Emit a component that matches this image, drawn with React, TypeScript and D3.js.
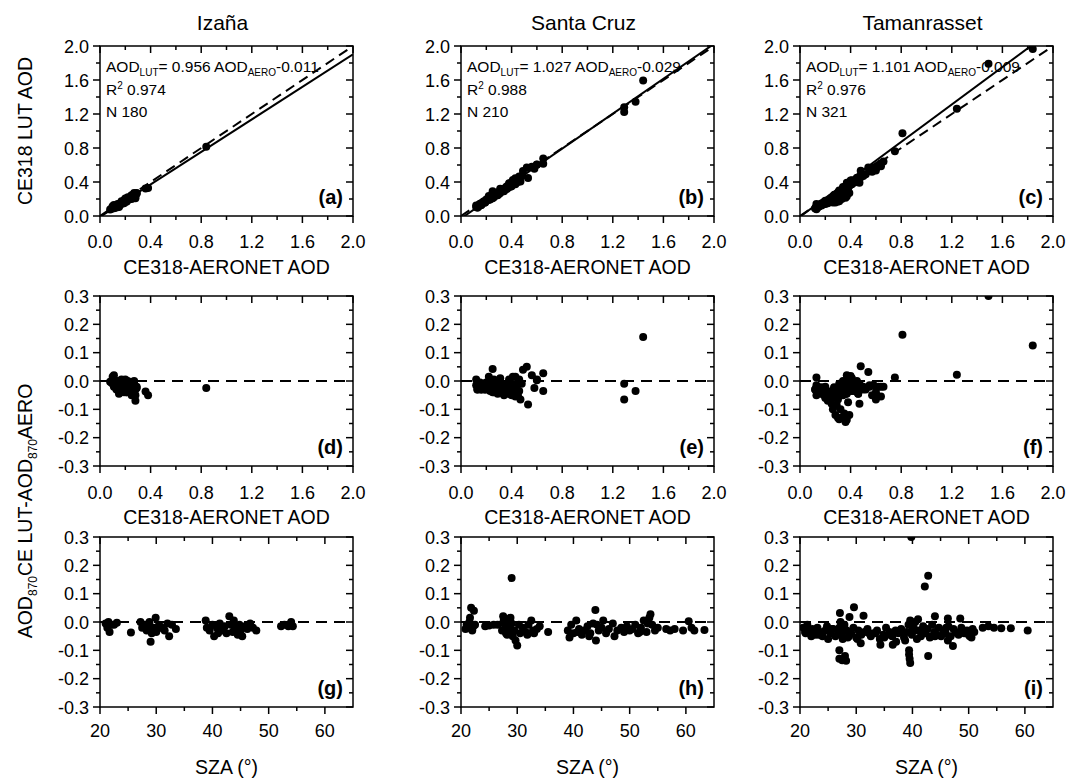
import React from 'react';
import * as d3 from 'd3';

// ---------- Data ----------
const stations = ['Izaña', 'Santa Cruz', 'Tamanrasset'];
const panelLetters = [['(a)', '(b)', '(c)'], ['(d)', '(e)', '(f)'], ['(g)', '(h)', '(i)']];

const fitSlope = [0.956, 1.027, 1.101];
const fitIntercept = [-0.011, -0.029, -0.009];
const fitR2 = ['0.974', '0.988', '0.976'];
const fitN = ['180', '210', '321'];

// Izaña: CE318-AERONET AOD, LUT-AERO difference, SZA
const izanaAero = [0.09,0.12,0.15,0.10,0.13,0.08,0.11,0.36,0.14,0.16,0.12,0.17,0.18,0.28,0.21,0.20,0.10,0.26,0.22,0.24,0.23,0.19,0.38,0.25,0.29,0.27,0.27,0.17,0.11,0.14,0.15,0.25,0.18,0.21,0.19,0.24,0.21,0.11,0.13,0.23,0.26,0.15,0.28,0.28,0.16,0.84,0.25,0.29,0.13,0.20,0.19,0.27,0.12,0.14,0.16,0.22,0.18];
const izanaDiff = [-0.005,-0.020,-0.035,-0.010,-0.010,-0.003,0.000,-0.037,0.000,-0.020,-0.010,-0.030,-0.015,-0.070,-0.040,-0.020,0.015,-0.025,-0.010,-0.020,-0.030,-0.005,-0.050,-0.010,-0.025,0.000,-0.035,0.005,-0.020,-0.030,-0.010,-0.050,-0.020,-0.005,-0.030,-0.015,-0.040,0.020,-0.010,-0.035,-0.020,-0.045,-0.030,-0.050,-0.015,-0.025,-0.005,-0.020,-0.030,0.005,-0.040,-0.010,-0.015,-0.010,-0.015,0.000,-0.015];
const izanaSza = [21.0,21.3,21.7,22.0,22.5,23.0,21.5,25.5,27.2,27.5,28.0,28.3,28.6,29.0,29.2,29.5,29.9,30.2,30.5,31.0,31.5,32.0,32.3,32.8,33.5,28.8,30.0,38.8,39.0,39.5,40.0,40.3,40.8,41.3,41.7,42.2,42.5,43.0,43.3,43.6,44.0,44.5,45.0,45.3,45.8,46.2,46.7,47.2,47.8,43.8,41.0,44.8,52.2,52.8,53.5,54.0,54.3];

// Santa Cruz
const santaAero = [0.52,0.49,0.14,0.20,0.27,0.33,0.18,0.40,0.22,0.12,0.30,0.36,0.16,0.44,0.56,0.31,0.41,1.44,0.53,0.47,0.25,0.13,0.23,0.35,0.45,0.19,0.38,0.29,0.15,0.42,0.26,0.34,0.17,0.28,0.21,0.46,0.37,0.14,0.32,1.38,0.24,0.39,0.16,0.43,0.27,0.31,0.12,0.22,0.36,0.19,0.29,0.41,0.24,0.25,1.29,0.33,0.15,0.38,0.26,0.44,0.20,0.34,0.13,0.23,0.40,0.48,0.28,0.65,0.17,0.37,0.58,1.29,0.30,0.21,0.60,0.35,0.43,0.65,0.18,0.32,0.25,0.46,0.39,0.14,0.27,0.42,0.22,0.60,0.31,0.16,0.36];
const santaDiff = [0.05,0.04,-0.01,-0.02,0.0,-0.03,-0.01,-0.025,0.015,-0.015,-0.015,-0.012,-0.01,-0.01,0.02,0.01,0.015,0.155,-0.083,-0.065,-0.04,-0.03,-0.01,-0.02,-0.05,-0.03,-0.01,-0.045,-0.005,-0.04,0.005,-0.035,-0.02,-0.035,-0.01,0.005,-0.04,-0.025,-0.015,-0.035,-0.03,-0.045,-0.03,-0.055,-0.01,-0.04,0.005,-0.025,-0.045,-0.03,-0.015,-0.04,-0.005,0.042,-0.065,-0.03,-0.02,0.005,-0.04,-0.025,-0.005,-0.05,-0.03,-0.035,-0.05,-0.01,-0.02,-0.035,-0.015,-0.03,-0.025,-0.01,-0.04,-0.02,0.005,-0.035,0.015,0.027,-0.01,-0.03,-0.02,-0.035,-0.005,-0.025,-0.03,-0.025,-0.03,0.003,-0.02,-0.03,-0.028];
const santaSza = [21.8,22.3,21.0,21.2,21.5,22.0,22.5,20.8,21.6,22.2,24.3,25.0,25.8,26.5,27.5,28.3,28.8,29.0,30.0,29.7,28.0,27.3,27.8,28.5,29.2,29.5,30.3,28.2,29.0,30.5,27.6,28.7,31.0,31.5,32.0,32.5,33.0,33.5,34.0,35.5,32.8,31.8,39.0,39.3,39.6,40.0,40.5,41.0,41.5,42.0,42.5,43.0,43.5,43.9,44.0,44.5,45.0,45.3,45.8,46.3,47.0,47.3,47.8,40.7,42.8,44.2,48.5,49.0,49.5,50.0,50.5,51.0,51.5,52.0,52.5,53.0,53.5,53.7,54.0,54.5,55.0,51.8,53.2,56.5,57.2,58.0,59.5,60.5,61.0,61.5,63.3];

// Tamanrasset
const tamAero = [0.14,0.22,0.31,0.18,0.27,0.36,0.42,0.15,0.24,0.33,0.20,0.29,0.38,0.13,0.25,0.44,0.34,0.17,0.23,0.40,0.30,0.21,0.35,0.50,0.26,0.16,0.32,0.43,0.19,0.28,0.37,0.12,0.24,0.46,0.55,0.30,0.22,0.39,0.14,0.33,0.27,0.41,0.36,0.38,0.18,0.60,0.45,0.25,0.52,0.34,0.58,0.20,0.42,0.29,0.47,0.15,0.35,0.62,0.23,0.40,0.31,0.55,0.19,0.44,0.26,0.37,0.64,0.21,0.50,0.32,0.17,0.28,0.39,0.27,0.13,0.48,0.23,0.25,0.60,0.36,0.30,0.16,0.41,0.33,0.57,0.12,0.24,0.46,1.49,0.81,1.84,0.48,0.54,1.24,0.75,0.37,0.13,0.40,0.32,0.30,0.31,0.28,0.37,0.26,0.35,0.33,0.36,0.39,0.38,0.25,0.47,0.22,0.60,0.29,0.64,0.66,0.58,0.20,0.27,0.17,0.15,0.19,0.26,0.34,0.21,0.29,0.16,0.43,0.24,0.31];
const tamDiff = [-0.02,-0.04,-0.01,-0.03,-0.025,-0.045,-0.02,-0.035,-0.05,-0.03,-0.06,-0.04,-0.025,-0.05,-0.035,-0.02,0.0,-0.045,-0.06,-0.01,-0.03,-0.05,-0.04,-0.02,-0.055,-0.03,-0.045,-0.035,-0.025,-0.05,-0.04,-0.03,-0.06,-0.045,-0.02,-0.035,-0.05,-0.03,-0.04,-0.025,-0.055,-0.035,-0.01,0.005,-0.045,-0.02,0.0,-0.06,-0.03,-0.05,-0.015,-0.04,-0.025,-0.055,-0.01,-0.035,-0.045,-0.02,-0.05,-0.03,-0.04,-0.015,-0.05,-0.025,-0.035,-0.045,-0.02,-0.04,-0.03,-0.05,-0.025,-0.035,-0.035,-0.05,-0.015,-0.025,-0.055,-0.06,-0.04,-0.045,-0.065,-0.03,0.01,-0.04,-0.05,-0.03,-0.04,-0.045,0.30,0.163,0.125,0.052,0.032,0.022,0.012,0.02,0.012,0.018,-0.10,-0.13,-0.135,-0.12,-0.137,-0.10,-0.115,-0.13,-0.145,-0.12,-0.075,-0.08,-0.08,-0.07,-0.065,-0.085,-0.055,-0.02,-0.015,-0.02,-0.022,-0.022,-0.03,-0.03,-0.045,-0.025,-0.04,-0.055,-0.035,-0.03,-0.05,-0.02];
const tamSza = [20.6,21.0,21.3,21.8,22.2,22.7,23.1,23.6,24.0,24.5,25.0,25.4,25.9,26.3,26.8,27.0,27.2,27.4,27.6,27.9,28.3,28.7,29.1,29.5,30.0,30.4,30.9,31.5,32.0,32.6,33.1,33.7,34.2,34.8,35.3,35.9,36.4,37.0,37.5,38.0,38.5,39.0,39.3,39.6,39.9,40.2,40.5,40.8,41.2,41.5,41.9,42.3,42.7,43.1,43.5,43.9,44.3,44.7,45.1,45.5,45.9,46.4,46.8,47.3,47.7,48.2,48.7,49.2,49.7,50.2,50.7,51.0,20.9,22.0,24.8,27.3,28.5,30.2,33.4,36.0,38.7,40.0,41.0,42.0,44.0,45.8,48.0,50.0,39.8,42.8,42.2,29.6,27.1,31.3,46.3,44.0,48.5,28.8,27.0,27.0,27.5,28.0,28.2,39.4,39.4,39.5,39.6,42.8,30.8,34.3,36.5,37.1,46.3,47.2,50.5,52.5,53.5,54.5,55.8,57.5,60.5,21.5,23.3,25.7,32.3,35.0,37.8,40.6,43.4,46.0];

const aeroByStation = [izanaAero, santaAero, tamAero];
const diffByStation = [izanaDiff, santaDiff, tamDiff];
const szaByStation = [izanaSza, santaSza, tamSza];

const aodTicks = [0, 0.4, 0.8, 1.2, 1.6, 2.0];
const aodMinor = [0.2, 0.6, 1.0, 1.4, 1.8];
const diffTicks = [-0.3, -0.2, -0.1, 0, 0.1, 0.2, 0.3];
const diffMinor = [-0.25, -0.15, -0.05, 0.05, 0.15, 0.25];
const szaTicks = [20, 30, 40, 50, 60];
const szaMinor = [25, 35, 45, 55];

// ---------- Layout ----------
const FONT = '"Liberation Sans", Arial, Helvetica, sans-serif';
const COL_X = [100, 461, 800];
const ROW_Y = [46, 296, 537];
const PW = 253;
const PH = 170;
const MAJ = 7;
const MIN = 4;

type PanelProps = {
  left: number; top: number; id: string;
  xDomain: [number, number]; yDomain: [number, number];
  xTicks: number[]; xMinor: number[]; yTicks: number[]; yMinor: number[];
  xFmt: (v: number) => string; yFmt: (v: number) => string;
  letter: string; xTitle: string; xTitleDy: number; tickDy: number;
  render: (xs: any, ys: any) => React.ReactNode;
  annot?: React.ReactNode;
};

function Panel(p: PanelProps) {
  const xs = d3.scaleLinear().domain(p.xDomain).range([0, PW]);
  const ys = d3.scaleLinear().domain(p.yDomain).range([PH, 0]);
  return (
    <g transform={`translate(${p.left},${p.top})`}>
      <defs>
        <clipPath id={p.id}><rect x={0} y={0} width={PW} height={PH} /></clipPath>
      </defs>
      {p.annot}
      <g clipPath={`url(#${p.id})`}>{p.render(xs, ys)}</g>
      <rect x={0} y={0} width={PW} height={PH} fill="none" stroke="#000" strokeWidth={1.5} />
      {p.xTicks.map((t) => (
        <g key={'xt' + t}>
          <line x1={xs(t)} x2={xs(t)} y1={PH} y2={PH + MAJ} stroke="#000" strokeWidth={1.5} />
          <line x1={xs(t)} x2={xs(t)} y1={0} y2={MAJ} stroke="#000" strokeWidth={1.5} />
          <text x={xs(t)} y={PH + p.tickDy} textAnchor="middle" fontSize={18}>{p.xFmt(t)}</text>
        </g>
      ))}
      {p.xMinor.map((t) => (
        <g key={'xm' + t}>
          <line x1={xs(t)} x2={xs(t)} y1={PH} y2={PH + MIN} stroke="#000" strokeWidth={1.5} />
          <line x1={xs(t)} x2={xs(t)} y1={0} y2={MIN} stroke="#000" strokeWidth={1.5} />
        </g>
      ))}
      {p.yTicks.map((t) => (
        <g key={'yt' + t}>
          <line x1={0} x2={-MAJ} y1={ys(t)} y2={ys(t)} stroke="#000" strokeWidth={1.5} />
          <line x1={PW} x2={PW - MAJ} y1={ys(t)} y2={ys(t)} stroke="#000" strokeWidth={1.5} />
          <text x={-11} y={ys(t) + 6.5} textAnchor="end" fontSize={18}>{p.yFmt(t)}</text>
        </g>
      ))}
      {p.yMinor.map((t) => (
        <g key={'ym' + t}>
          <line x1={0} x2={-MIN} y1={ys(t)} y2={ys(t)} stroke="#000" strokeWidth={1.5} />
          <line x1={PW} x2={PW - MIN} y1={ys(t)} y2={ys(t)} stroke="#000" strokeWidth={1.5} />
        </g>
      ))}
      <text x={PW - 10} y={PH - 12} textAnchor="end" fontSize={20} fontWeight="bold">{p.letter}</text>
      <text x={PW / 2} y={PH + p.xTitleDy} textAnchor="middle" fontSize={19.5}>{p.xTitle}</text>
    </g>
  );
}

const fmt1 = (v: number) => v.toFixed(1);
const fmt0 = (v: number) => String(v);

export default function App() {
  return (
    <svg width={1070} height={780} style={{ position: 'absolute', left: 0, top: 0, background: '#fff' }}
      fontFamily={FONT} fill="#000">
      {stations.map((s, i) => (
        <text key={s} x={COL_X[i] + PW / 2 - 4} y={30} textAnchor="middle" fontSize={21}>{s}</text>
      ))}
      <text transform={`translate(32,131) rotate(-90)`} textAnchor="middle" fontSize={19.5}>CE318 LUT AOD</text>
      <text transform={`translate(32,511) rotate(-90)`} textAnchor="middle" fontSize={19.5}>
        AOD<tspan fontSize={12} dy={5}>870</tspan><tspan dy={-5}>CE LUT-AOD</tspan><tspan fontSize={12} dy={5}>870</tspan><tspan dy={-5}>AERO</tspan>
      </text>

      {stations.map((s, i) => {
        const aero = aeroByStation[i];
        const diff = diffByStation[i];
        const sza = szaByStation[i];
        const n = Math.min(aero.length, diff.length, sza.length);
        const idx = d3.range(n);
        const a = fitSlope[i];
        const b = fitIntercept[i];
        return (
          <g key={'st' + i}>
            <Panel left={COL_X[i]} top={ROW_Y[0]} id={`clip-a${i}`} xDomain={[0, 2]} yDomain={[0, 2]}
              xTicks={aodTicks} xMinor={aodMinor} yTicks={aodTicks} yMinor={aodMinor}
              xFmt={fmt1} yFmt={fmt1} letter={panelLetters[0][i]} xTitle="CE318-AERONET AOD" xTitleDy={58} tickDy={32}
              annot={
                <g fontSize={15.5}>
                  <text x={6} y={26}>AOD<tspan fontSize={10} dy={4}>LUT</tspan><tspan dy={-4}>{`= ${a.toFixed(3)} AOD`}</tspan><tspan fontSize={10} dy={4}>AERO</tspan><tspan dy={-4}>{b.toFixed(3)}</tspan></text>
                  <text x={6} y={49}>R<tspan fontSize={10} dy={-6}>2</tspan><tspan dy={6}>{` ${fitR2[i]}`}</tspan></text>
                  <text x={6} y={71}>{`N ${fitN[i]}`}</text>
                </g>
              }
              render={(xs, ys) => (
                <g>
                  {idx.map((k) => (
                    <circle key={k} cx={xs(aero[k])} cy={ys(aero[k] + diff[k])} r={4} fill="#000" />
                  ))}
                  <line x1={xs(0)} y1={ys(0)} x2={xs(2)} y2={ys(2)} stroke="#000" strokeWidth={2} strokeDasharray="10,6" />
                  <line x1={xs(0)} y1={ys(b)} x2={xs(2)} y2={ys(a * 2 + b)} stroke="#000" strokeWidth={2} />
                </g>
              )}
            />
            <Panel left={COL_X[i]} top={ROW_Y[1]} id={`clip-b${i}`} xDomain={[0, 2]} yDomain={[-0.3, 0.3]}
              xTicks={aodTicks} xMinor={aodMinor} yTicks={diffTicks} yMinor={diffMinor}
              xFmt={fmt1} yFmt={fmt1} letter={panelLetters[1][i]} xTitle="CE318-AERONET AOD" xTitleDy={58} tickDy={33}
              render={(xs, ys) => (
                <g>
                  <line x1={0} x2={PW} y1={ys(0)} y2={ys(0)} stroke="#000" strokeWidth={2} strokeDasharray="11,7" />
                  {idx.map((k) => (
                    <circle key={k} cx={xs(aero[k])} cy={ys(diff[k])} r={4} fill="#000" />
                  ))}
                </g>
              )}
            />
            <Panel left={COL_X[i]} top={ROW_Y[2]} id={`clip-c${i}`} xDomain={[20, 65]} yDomain={[-0.3, 0.3]}
              xTicks={szaTicks} xMinor={szaMinor} yTicks={diffTicks} yMinor={diffMinor}
              xFmt={fmt0} yFmt={fmt1} letter={panelLetters[2][i]} xTitle="SZA (°)" xTitleDy={67} tickDy={30}
              render={(xs, ys) => (
                <g>
                  <line x1={0} x2={PW} y1={ys(0)} y2={ys(0)} stroke="#000" strokeWidth={2} strokeDasharray="11,7" />
                  {idx.map((k) => (
                    <circle key={k} cx={xs(sza[k])} cy={ys(diff[k])} r={4} fill="#000" />
                  ))}
                </g>
              )}
            />
          </g>
        );
      })}
    </svg>
  );
}
